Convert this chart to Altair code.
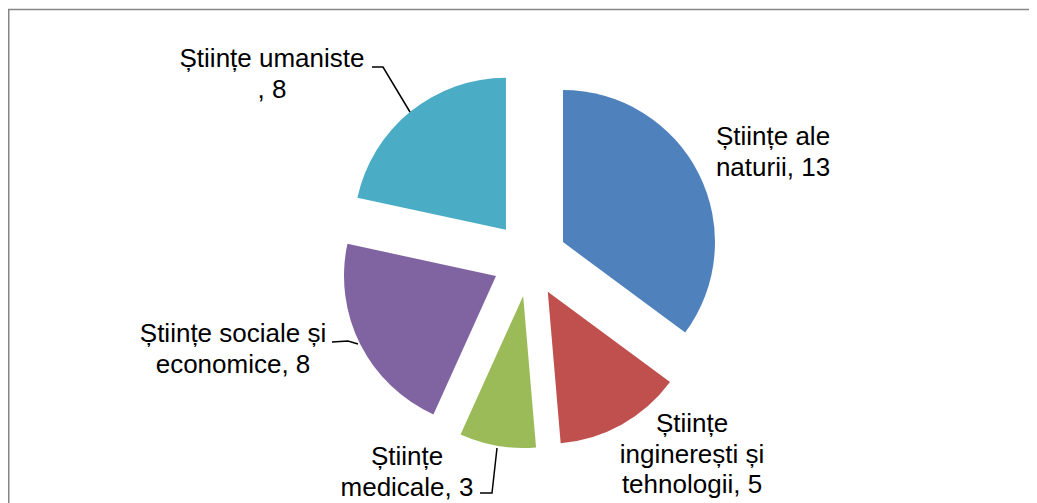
import altair as alt
import pandas as pd
import numpy as np

# ---- data ----
categories = [
    "Științe ale naturii",
    "Științe inginerești și tehnologii",
    "Științe medicale",
    "Științe sociale și economice",
    "Științe umaniste",
]
values = [13, 5, 3, 8, 8]
label_texts = [
    "Științe ale\nnaturii, 13",
    "Științe\ninginerești și\ntehnologii, 5",
    "Științe\nmedicale, 3",
    "Științe sociale și\neconomice, 8",
    "Științe umaniste\n, 8",
]

# ---- style / layout ----
colors = ["#4F81BD", "#C0504D", "#9BBB59", "#8064A2", "#4BACC6"]
W, H = 1021, 495
CX, CY = 521.5, 251.0          # pie centre inside the plot area
R = 152                        # pie radius
EXPLODE = 37.5                 # slice explosion distance
FONT = "Liberation Sans"
FS = 26
# label anchor (centre of first line baseline), relative to pie centre, y down
label_off = [(243.5, -114), (162.5, 173), (-122.5, 206), (-296.5, 83), (-257.5, -192)]
# leader lines (relative to pie centre, y down)
leader_pts = {
    "Științe umaniste": [(-157.5, -192), (-146.5, -192), (-119.5, -147)],
    "Științe sociale și economice": [(-197.5, 83), (-181.5, 82), (-171.5, 85)],
    "Științe medicale": [(-32.5, 189), (-37.5, 234), (-49.5, 234)],
}

# ---- derived tables ----
vals = np.array(values, dtype=float)
total = vals.sum()
cum_end = np.cumsum(vals)
cum_start = cum_end - vals
t0 = cum_start / total * 2 * np.pi
t1 = cum_end / total * 2 * np.pi
mid = (t0 + t1) / 2

slices = pd.DataFrame({
    "category": categories,
    "value": values,
    "t0": t0,
    "t1": t1,
    "dx": np.sin(mid) * EXPLODE,
    "uy": np.cos(mid) * EXPLODE,
})

labels = pd.DataFrame({
    "category": categories,
    "text": label_texts,
    "dx": [o[0] for o in label_off],
    "uy": [-o[1] for o in label_off],
})

rows = []
for cat, pts in leader_pts.items():
    for i, (px, py) in enumerate(pts):
        rows.append({"category": cat, "i": i, "dx": px, "uy": -py})
leaders = pd.DataFrame(rows)

xs = alt.Scale(domain=[-CX, W - CX], nice=False, zero=False)
ys = alt.Scale(domain=[CY - H, CY], nice=False, zero=False)

arcs = alt.Chart(slices).mark_arc(outerRadius=R, stroke=None).encode(
    x=alt.X("dx:Q", scale=xs, axis=None),
    y=alt.Y("uy:Q", scale=ys, axis=None),
    theta=alt.Theta("t0:Q", scale=None),
    theta2="t1:Q",
    color=alt.Color("category:N", scale=alt.Scale(domain=categories, range=colors), legend=None),
)

lead = alt.Chart(leaders).mark_line(color="black", strokeWidth=1.5).encode(
    x=alt.X("dx:Q", scale=xs, axis=None),
    y=alt.Y("uy:Q", scale=ys, axis=None),
    detail="category:N",
    order="i:Q",
)

texts = alt.Chart(labels).mark_text(
    font=FONT, fontSize=FS, lineBreak="\n", lineHeight=30.5,
    align="center", baseline="alphabetic", color="black",
).encode(
    x=alt.X("dx:Q", scale=xs, axis=None),
    y=alt.Y("uy:Q", scale=ys, axis=None),
    text="text:N",
)

frame_data = alt.Data(values=[{"a": 1}])
frame_top = alt.Chart(frame_data).mark_rule(color="#868686", strokeWidth=1.5).encode(
    x=alt.value(0), x2=alt.value(W), y=alt.value(1.5)
)
frame_left = alt.Chart(frame_data).mark_rule(color="#868686", strokeWidth=1.5).encode(
    x=alt.value(0.75), y=alt.value(1.5), y2=alt.value(H)
)

chart = alt.layer(frame_top, frame_left, arcs, lead, texts).properties(
    width=W, height=H, padding=0, autosize="none"
).configure_view(stroke=None)

chart.save("out.html", embed_options={"renderer": "svg", "actions": False})
